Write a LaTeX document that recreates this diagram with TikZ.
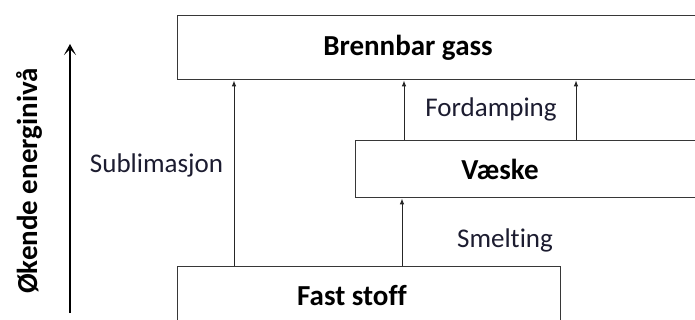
\documentclass[tikz,border=0pt]{standalone}
\usepackage{fontspec}
\setmainfont{Carlito}[Ligatures={NoCommon}]
\usetikzlibrary{arrows.meta}
\definecolor{txt}{RGB}{28,28,48}
\definecolor{edge}{RGB}{55,55,55}
\tikzset{
  box/.style={draw=edge, line width=1.3pt, fill=white, inner sep=0pt, anchor=north west},
  boldlbl/.style={font=\fontsize{29}{34}\selectfont\bfseries, text=black, anchor=base, inner sep=0pt},
  lbl/.style={font=\fontsize{27}{32}\selectfont, text=txt, anchor=base, inner sep=0pt},
  arr/.style={draw=black!85, line width=1pt, -{Latex[length=6pt,width=4.5pt]}},
  bigarr/.style={draw=black, line width=2.2pt, -{Stealth[length=11pt,width=12pt,inset=6pt]}}
}
\begin{document}
\begin{tikzpicture}[x=1pt,y=-1pt]
\useasboundingbox (0,0) rectangle (695,320);
\clip (0,0) rectangle (695,320);
\fill[white] (0,0) rectangle (695,320);
% boxes
\node[box, minimum width=540pt, minimum height=64pt] (gas) at (177,15) {};
\node[box, minimum width=360pt, minimum height=57pt] (liq) at (355,140) {};
\node[box, minimum width=383pt, minimum height=80pt] (sol) at (177,266) {};
% box labels
\node[boldlbl] (gasl) at (408,56) {Brennbar gass};
\node[boldlbl] (liql) at (500,180) {Væske};
\node[boldlbl] (soll) at (352,305) {Fast stoff};
% connectors
\coordinate (xs) at (234,0);
\coordinate (xm) at (402,0);
\coordinate (xf1) at (404,0);
\coordinate (xf2) at (576,0);
\draw[arr] (xs |- sol.north) -- (xs |- gas.south);
\draw[arr] (xm |- sol.north) -- (xm |- liq.south);
\draw[arr] (xf1 |- liq.north) -- (xf1 |- gas.south);
\draw[arr] (xf2 |- liq.north) -- (xf2 |- gas.south);
% edge labels
\node[lbl] (subl) at (156.5,173) {Sublimasjon};
\node[lbl] (ford) at (491,117) {Fordamping};
\node[lbl] (smel) at (505,247) {Smelting};
% energy axis
\coordinate (eb) at (70,313);
\coordinate (et) at (70,44);
\draw[bigarr] (eb) -- (et);
\node[boldlbl, rotate=90] (axl) at (37,181) {Økende energinivå};
\end{tikzpicture}
\end{document}
